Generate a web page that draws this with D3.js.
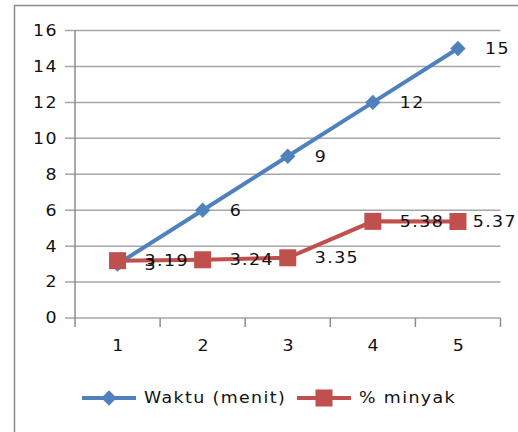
<!DOCTYPE html>
<html>
<head>
<meta charset="utf-8">
<script src="https://cdn.jsdelivr.net/npm/d3@7"></script>
<style>
  body { margin: 0; background: #fff; }
  text { font-family: "DejaVu Sans", sans-serif; font-size: 15px; letter-spacing: 1.2px; fill: #111; }
</style>
</head>
<body>
<div id="chart"></div>
<script>
const categories = ["1", "2", "3", "4", "5"];
const waktu = [3, 6, 9, 12, 15];
const minyak = [3.19, 3.24, 3.35, 5.38, 5.37];
const yTicks = [0, 2, 4, 6, 8, 10, 12, 14, 16];
const seriesNames = ["Waktu (menit)", "% minyak"];

const width = 518, height = 432;
const blue = "#4F81BD", red = "#C0504D";
const gridColor = "#a6a6a6";
const stretch = 1.16; // the reference text is drawn a bit wide

const svg = d3.select("#chart").append("svg")
  .attr("width", width)
  .attr("height", height);

// place a text at (px, py), widened horizontally
const put = (sel, px, py) => sel.attr("transform", (d, i) =>
  `translate(${typeof px === "function" ? px(d, i) : px},${typeof py === "function" ? py(d, i) : py}) scale(${stretch},1)`);

// chart frame (runs off the right and bottom of the window)
svg.append("rect")
  .attr("x", 14.5).attr("y", 5.5)
  .attr("width", 700).attr("height", 700)
  .attr("fill", "none")
  .attr("stroke", "#8c8c8c")
  .attr("stroke-width", 1.5);

const x = d3.scaleBand().domain(categories).range([75, 500.5]);
const y = d3.scaleLinear().domain([0, 16]).range([318, 30.5]);

// gridlines + y ticks
svg.append("g")
  .selectAll("line")
  .data(yTicks)
  .join("line")
  .attr("x1", 65).attr("x2", 500.5)
  .attr("y1", d => y(d)).attr("y2", d => y(d))
  .attr("stroke", gridColor)
  .attr("stroke-width", 1.5);

svg.append("g")
  .selectAll("text")
  .data(yTicks)
  .join("text")
  .call(put, 58, d => y(d))
  .attr("dy", "0.36em")
  .attr("text-anchor", "end")
  .text(d => d);

// y axis line
svg.append("line")
  .attr("x1", 75).attr("x2", 75)
  .attr("y1", y(16)).attr("y2", y(0))
  .attr("stroke", "#8c8c8c").attr("stroke-width", 1.5);

// x axis ticks between categories
const xEdges = categories.map(c => x(c)).concat(x.range()[1]);
svg.append("g")
  .selectAll("line")
  .data(xEdges)
  .join("line")
  .attr("x1", d => d).attr("x2", d => d)
  .attr("y1", y(0)).attr("y2", y(0) + 9)
  .attr("stroke", "#8c8c8c").attr("stroke-width", 1.5);

svg.append("g")
  .selectAll("text")
  .data(categories)
  .join("text")
  .call(put, d => x(d) + x.bandwidth() / 2 + 1, 346)
  .attr("dy", "0.36em")
  .attr("text-anchor", "middle")
  .text(d => d);

const cx = i => x(categories[i]) + x.bandwidth() / 2;
const line = d3.line().x((d, i) => cx(i)).y(d => y(d));

const diamond = d3.symbol().type(d3.symbolDiamond2).size(150);
const square = d3.symbol().type(d3.symbolSquare).size(290);

function drawSeries(values, color, sym) {
  svg.append("path")
    .attr("d", line(values))
    .attr("fill", "none")
    .attr("stroke", color)
    .attr("stroke-width", 4);
  svg.append("g")
    .selectAll("path")
    .data(values)
    .join("path")
    .attr("transform", (d, i) => `translate(${cx(i)},${y(d)})`)
    .attr("d", sym)
    .attr("fill", color);
}

drawSeries(waktu, blue, diamond);
drawSeries(minyak, red, square);

// data labels, to the right of each point, kept inside the window
function drawLabels(values) {
  svg.append("g")
    .selectAll("text")
    .data(values)
    .join("text")
    .attr("dy", "0.36em")
    .text(d => d)
    .each(function (d, i) {
      const w = this.getComputedTextLength() * stretch;
      const px = Math.min(cx(i) + 27, width - 1 - w);
      d3.select(this).call(put, px, y(d));
    });
}
drawLabels(waktu);
drawLabels(minyak);

// legend
const legend = svg.append("g").attr("transform", "translate(0,398)");
const items = [
  { name: seriesNames[0], color: blue, sym: diamond, x0: 82 },
  { name: seriesNames[1], color: red, sym: square, x0: 297 }
];
items.forEach(it => {
  legend.append("line")
    .attr("x1", it.x0).attr("x2", it.x0 + 54)
    .attr("y1", 0).attr("y2", 0)
    .attr("stroke", it.color).attr("stroke-width", 4);
  legend.append("path")
    .attr("transform", `translate(${it.x0 + 27},0)`)
    .attr("d", it.sym)
    .attr("fill", it.color);
  legend.append("text")
    .call(put, it.x0 + 62, 0)
    .attr("dy", "0.36em")
    .text(it.name);
});
</script>
</body>
</html>
